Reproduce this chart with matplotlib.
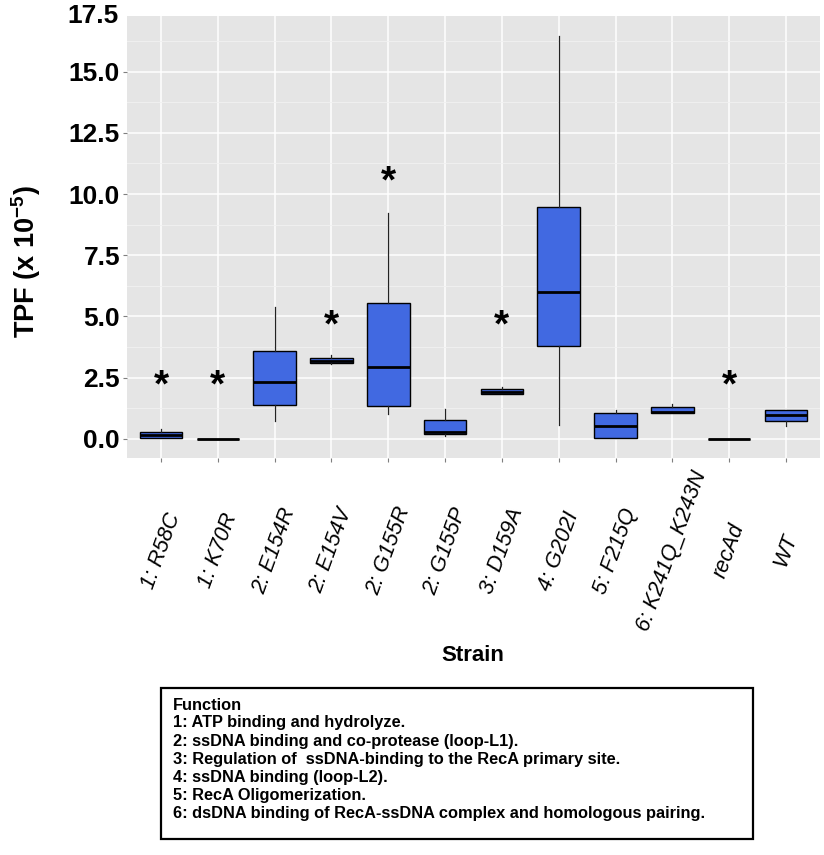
import numpy as np
import matplotlib
matplotlib.use("Agg")
import matplotlib.pyplot as plt
from matplotlib.patches import Rectangle
from matplotlib.transforms import offset_copy

plt.rcParams['font.family'] = ['Liberation Sans', 'DejaVu Sans']

# data
strains = ['1: R58C', '1: K70R', '2: E154R', '2: E154V', '2: G155R', '2: G155P',
           '3: D159A', '4: G202I', '5: F215Q', '6: K241Q_K243N', 'recAd', 'WT']
q1 = [0.05, 0.0, 1.39, 3.09, 1.36, 0.19, 1.84, 3.78, 0.05, 1.07, 0.0, 0.73]
med = [0.15, 0.0, 2.31, 3.18, 2.93, 0.30, 1.92, 6.00, 0.54, 1.10, 0.0, 0.98]
q3 = [0.29, 0.0, 3.58, 3.31, 5.56, 0.79, 2.03, 9.47, 1.05, 1.29, 0.0, 1.18]
whislo = [0.02, 0.0, 0.73, 3.05, 1.03, 0.12, 1.84, 0.58, 0.03, 1.07, 0.0, 0.53]
whishi = [0.40, 0.0, 5.40, 3.44, 9.21, 1.24, 2.13, 16.45, 1.17, 1.44, 0.0, 1.18]

star_strains = ['1: R58C', '1: K70R', '2: E154V', '2: G155R', '3: D159A', 'recAd']
star_y = [2.45, 2.45, 4.9, 10.8, 4.9, 2.45]

yticks = [0.0, 2.5, 5.0, 7.5, 10.0, 12.5, 15.0]

functions = ['Function',
             '1: ATP binding and hydrolyze.',
             '2: ssDNA binding and co-protease (loop-L1).',
             '3: Regulation of  ssDNA-binding to the RecA primary site.',
             '4: ssDNA binding (loop-L2).',
             '5: RecA Oligomerization.',
             '6: dsDNA binding of RecA-ssDNA complex and homologous pairing.']

W, H = 824, 855
fig = plt.figure(figsize=(W / 100, H / 100), dpi=100)
ax = fig.add_axes([127 / W, 1 - 458 / H, (820 - 127) / W, (458 - 16) / H])
ax.set_facecolor('#E5E5E5')

pos = np.arange(1, len(strains) + 1)
stats = []
for i, s in enumerate(strains):
    stats.append(dict(label=s, q1=q1[i], med=med[i], q3=q3[i],
                      whislo=whislo[i], whishi=whishi[i], fliers=[]))

ax.bxp(stats, positions=pos, widths=0.75, patch_artist=True, showcaps=False,
       showfliers=False,
       boxprops=dict(facecolor='#4169E1', edgecolor='black', linewidth=1.0),
       medianprops=dict(color='black', linewidth=2.0, solid_capstyle='butt'),
       whiskerprops=dict(color='#222222', linewidth=0.9), zorder=3)

# asterisk glyph sits high in its box, nudge it down a few pixels
star_tr = offset_copy(ax.transData, fig=fig, y=-8, units='dots')
for s, y in zip(star_strains, star_y):
    x = pos[strains.index(s)]
    ax.text(x, y, '*', transform=star_tr, ha='center', va='center', fontsize=28,
            fontweight='bold', color='black', zorder=4)

ax.set_xlim(0.4, len(strains) + 0.6)
ax.set_ylim(-0.78, 17.27)

# grid like ggplot
ax.set_yticks(yticks)
ax.set_yticks(np.arange(1.25, 17.0, 2.5), minor=True)
ax.set_xticks(pos)
ax.grid(which='major', color='white', linewidth=1.1, zorder=0)
ax.grid(which='minor', axis='y', color='#F2F2F2', linewidth=0.6, zorder=0)
ax.set_axisbelow(True)
for sp in ax.spines.values():
    sp.set_visible(False)

ax.set_yticklabels([f'{v:.1f}' for v in yticks], fontsize=19, fontweight='bold')
ax.tick_params(axis='both', which='major', length=3, width=0.8, color='#7F7F7F', pad=2)
ax.tick_params(axis='y', which='minor', length=0)
ax.set_xticklabels([])
ax.text(-0.012, 17.28, '17.5', transform=ax.get_yaxis_transform(), ha='right',
        va='center', fontsize=19, fontweight='bold', clip_on=False)

# rotated strain names, centred under each tick
for x, s in zip(pos, strains):
    ax.text(x, -0.21, s, transform=ax.get_xaxis_transform(), rotation=70,
            ha='center', va='center', rotation_mode='anchor', fontsize=15.5,
            fontstyle='italic', clip_on=False)

fig.text(473 / W, 1 - 655 / H, 'Strain', ha='center', va='center',
         fontsize=16, fontweight='bold')
fig.text(26 / W, 1 - 262 / H, r'TPF (x 10$^{\mathregular{-5}}$)', rotation=90,
         ha='center', va='center', fontsize=19.5, fontweight='bold')

# function key box
fig.patches.append(Rectangle((161 / W, 1 - 839 / H), (753 - 161) / W, (839 - 688) / H,
                             transform=fig.transFigure, fill=False,
                             edgecolor='black', linewidth=1.6))
for k, line in enumerate(functions):
    fig.text(173 / W, 1 - (705 + 18 * k) / H, line, ha='left', va='center',
             fontsize=11.8, fontweight='bold')

fig.savefig('out.png', dpi=100)
